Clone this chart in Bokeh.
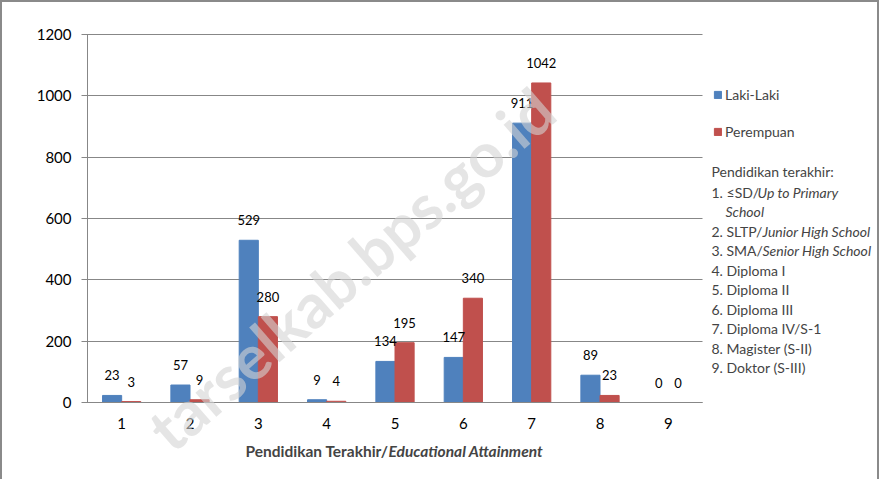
import math
from bokeh.plotting import figure
from bokeh.models import ColumnDataSource, Legend, LegendItem, Label, FixedTicker, Range1d
from bokeh.transform import dodge
from bokeh.core.properties import value
from bokeh.embed import file_html
from bokeh.resources import INLINE

# ---------------- data ----------------
categories = [1, 2, 3, 4, 5, 6, 7, 8, 9]
laki_laki = [23, 57, 529, 9, 134, 147, 911, 89, 0]
perempuan = [3, 9, 280, 4, 195, 340, 1042, 23, 0]
y_ticks = [0, 200, 400, 600, 800, 1000, 1200]
series_names = ["Laki-Laki", "Perempuan"]
x_title = ["Pendidikan Terakhir/", "Educational Attainment"]
notes_title = "Pendidikan terakhir:"
notes = [
    ("1. \u2264SD/", "Up to Primary"),
    ("", "School"),
    ("2. SLTP/", "Junior High School"),
    ("3. SMA/", "Senior High School"),
    ("4. Diploma I", ""),
    ("5. Diploma II", ""),
    ("6. Diploma III", ""),
    ("7. Diploma IV/S-1", ""),
    ("8. Magister (S-II)", ""),
    ("9. Doktor (S-III)", ""),
]
watermark = "tarselkab.bps.go.id"

BLUE = "#4F81BD"
RED = "#C0504D"
GRID = "#878787"
FONT = "Lato"

W, H = 879, 479
OFF = 2                      # reference pixel that maps to canvas pixel 0
X0, X1 = 0.5, 9.5            # category axis extent
Y0, Y1 = 0, 1200             # value axis extent
FL, FT, FR, FB = 87, 34, 702, 402   # plot area in reference pixels


def dx(px):
    return X0 + (px - FL) / (FR - FL) * (X1 - X0)


def dy(py):
    return Y0 + (FB - py) / (FB - FT) * (Y1 - Y0)


p = figure(width=W, height=H, output_backend="svg", toolbar_location=None,
           x_range=Range1d(dx(OFF), dx(OFF + W)),
           y_range=Range1d(dy(OFF + H), dy(OFF)),
           min_border=0, min_border_left=0, min_border_right=0,
           min_border_top=0, min_border_bottom=0)
p.styles = {"border-left": "2px solid #8a8a8a", "border-top": "2px solid #8a8a8a",
            "border-right": "2px solid #8a8a8a"}
p.outline_line_color = None
p.background_fill_color = "white"
p.border_fill_color = "white"
p.xgrid.visible = False
p.ygrid.visible = False

src = ColumnDataSource(dict(x=categories, laki=laki_laki, per=perempuan,
                            laki_t=[str(v) for v in laki_laki],
                            per_t=[str(v) for v in perempuan]))

bw = 0.28
r1 = p.vbar(x=dodge("x", -bw / 2), top="laki", width=bw, bottom=0, source=src,
            fill_color=BLUE, line_color=BLUE)
r2 = p.vbar(x=dodge("x", bw / 2), top="per", width=bw, bottom=0, source=src,
            fill_color=RED, line_color=RED)

p.text(x=dodge("x", -bw / 2), y="laki", text="laki_t", source=src,
       text_align="center", text_baseline="middle", y_offset=-20,
       text_font=value(FONT), text_font_size="13px", text_color="black")
p.text(x=dodge("x", bw / 2), y="per", text="per_t", source=src,
       text_align="center", text_baseline="middle", y_offset=-20,
       text_font=value(FONT), text_font_size="13px", text_color="black")

# axes placed at fixed data locations (zero-size side panels)
xa = p.xaxis[0]
ya = p.yaxis[0]
xa.fixed_location = Y0
ya.fixed_location = X0
xa.bounds = (X0, X1)
ya.bounds = (Y0, Y1)
xa.ticker = FixedTicker(ticks=categories)
ya.ticker = FixedTicker(ticks=y_ticks)
for ax in (xa, ya):
    ax.axis_line_color = GRID
    ax.major_label_text_font = FONT
    ax.major_label_text_font_size = "15px"
    ax.major_label_text_color = "black"
    ax.minor_tick_line_color = None
xa.major_tick_line_color = None
xa.major_label_standoff = 9
ya.major_tick_line_color = GRID
ya.major_tick_out = 6
ya.major_tick_in = FR - FL       # tick lines reach across the plot: grid lines
ya.major_label_standoff = 10
ya.level = "underlay"

# x title (mixed style)
p.add_layout(Label(x=dx(245), y=dy(450), text=x_title[0], text_font=FONT,
                   text_font_size="15.5px", text_font_style="bold",
                   text_baseline="middle", text_align="left"))
p.add_layout(Label(x=dx(388), y=dy(450), text=x_title[1], text_font=FONT,
                   text_font_size="15.5px", text_font_style="bold italic",
                   text_baseline="middle", text_align="left"))

# legend
legend = Legend(items=[LegendItem(label=series_names[0], renderers=[r1]),
                       LegendItem(label=series_names[1], renderers=[r2])],
                location=(713 - OFF, H - (140 - OFF)), orientation="vertical",
                glyph_width=9, glyph_height=9, label_height=16, label_standoff=3,
                spacing=20, padding=0, margin=0, border_line_color=None,
                background_fill_alpha=0, label_text_font=FONT,
                label_text_font_size="14px")
p.add_layout(legend)

# notes list
NFS = "14px"
p.add_layout(Label(x=dx(711), y=dy(171), text=notes_title, text_font=FONT,
                   text_font_size=NFS, text_baseline="middle"))
italic_x = [757, 725, 762, 762]
row_y = 191.5
for i, (up, it) in enumerate(notes):
    yy = row_y + i * 19.5
    if up:
        p.add_layout(Label(x=dx(711), y=dy(yy), text=up, text_font=FONT,
                           text_font_size=NFS, text_baseline="middle"))
    if it:
        p.add_layout(Label(x=dx(italic_x[i]), y=dy(yy), text=it, text_font=FONT,
                           text_font_size=NFS, text_font_style="italic",
                           text_baseline="middle"))

# watermark
p.add_layout(Label(x=dx(350), y=dy(268), text=watermark, text_font=FONT,
                   text_font_size="62px", text_font_style="bold",
                   text_color="#d4d4d4", text_alpha=0.6,
                   angle=math.radians(41), text_align="center",
                   text_baseline="middle", level="overlay"))

open("out.html", "w").write(file_html(p, INLINE))
